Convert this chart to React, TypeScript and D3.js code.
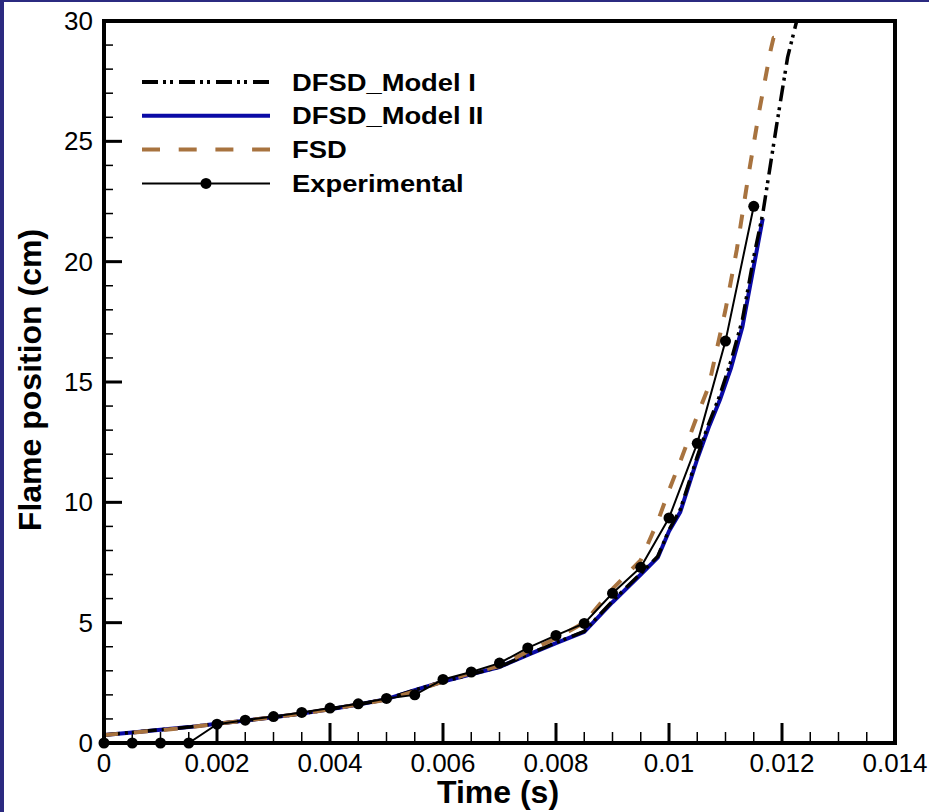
import React from 'react';
import * as d3 from 'd3';

// Experimental measurements
const expTime = [0, 0.0005, 0.001, 0.0015, 0.002, 0.0025, 0.003, 0.0035, 0.004, 0.0045, 0.005, 0.0055,
  0.006, 0.0065, 0.007, 0.0075, 0.008, 0.0085, 0.009, 0.0095, 0.01, 0.0105, 0.011, 0.0115];
const expPos = [0, 0, 0, 0, 0.78, 0.95, 1.1, 1.27, 1.45, 1.63, 1.85, 2.0,
  2.64, 2.95, 3.32, 3.95, 4.47, 4.97, 6.22, 7.3, 9.35, 12.45, 16.7, 22.3];

// DFSD Model II
const m2Time = [0, 0.0005, 0.001, 0.0015, 0.002, 0.0025, 0.003, 0.0035, 0.004, 0.0045, 0.005, 0.0055,
  0.006, 0.0065, 0.007, 0.0075, 0.008, 0.0085, 0.009, 0.0095, 0.0098, 0.01, 0.0102, 0.0105, 0.0107,
  0.0109, 0.0111, 0.0113, 0.0115, 0.01166];
const m2Pos = [0.33, 0.44, 0.55, 0.66, 0.8, 0.93, 1.07, 1.22, 1.4, 1.6, 1.82, 2.2,
  2.55, 2.85, 3.16, 3.66, 4.15, 4.62, 5.85, 7.0, 7.7, 8.8, 9.6, 11.8, 13.1,
  14.25, 15.6, 17.3, 19.8, 21.8];

// DFSD Model I
const m1Time = [0, 0.0005, 0.001, 0.0015, 0.002, 0.0025, 0.003, 0.0035, 0.004, 0.0045, 0.005, 0.0055,
  0.006, 0.0065, 0.007, 0.0075, 0.008, 0.0085, 0.009, 0.0095, 0.0098, 0.01, 0.0102, 0.0105, 0.0107,
  0.0109, 0.0111, 0.0113, 0.0115, 0.01166, 0.0119, 0.0121, 0.01226];
const m1Pos = [0.33, 0.44, 0.55, 0.66, 0.8, 0.93, 1.07, 1.22, 1.4, 1.6, 1.82, 2.2,
  2.55, 2.85, 3.16, 3.68, 4.17, 4.64, 5.9, 7.05, 7.75, 8.85, 9.7, 11.9, 13.25,
  14.45, 15.9, 17.6, 20.2, 22.0, 25.6, 28.5, 30];

// FSD
const fsdTime = [0, 0.0005, 0.001, 0.0015, 0.002, 0.0025, 0.003, 0.0035, 0.004, 0.0045, 0.005, 0.0055,
  0.006, 0.0065, 0.007, 0.0075, 0.008, 0.0085, 0.009, 0.0095, 0.0098, 0.01, 0.0102, 0.0105, 0.0107,
  0.011, 0.0112, 0.0114, 0.0116, 0.0118, 0.01185, 0.0119];
const fsdPos = [0.33, 0.43, 0.53, 0.65, 0.8, 0.93, 1.07, 1.22, 1.4, 1.6, 1.8, 2.15,
  2.55, 2.9, 3.2, 3.8, 4.35, 5.0, 6.4, 7.6, 9.2, 10.5, 11.7, 13.6, 14.8,
  18.0, 20.5, 23.5, 26.3, 28.8, 29.3, 29.3];

const xTicks = [0, 0.002, 0.004, 0.006, 0.008, 0.01, 0.012, 0.014];
const yTicks = [0, 5, 10, 15, 20, 25, 30];

const W = 929, H = 812;
const L = 104, R = 895, T = 21, B = 743;
const FONT = '"Liberation Sans", Arial, Helvetica, sans-serif';
const BLUE = '#0a0aa6';
const BROWN = '#a8733f';
const DASHDOT = '16,5,3,4,3,6';

export default function App() {
  const x = d3.scaleLinear().domain([0, 0.014]).range([L, R]);
  const y = d3.scaleLinear().domain([0, 30]).range([B, T]);
  const line = d3.line<[number, number]>().x(d => x(d[0])).y(d => y(d[1]));
  const zip = (a: number[], b: number[]) => a.map((t, i) => [t, b[i]] as [number, number]);

  const xMinor = d3.range(0, 0.014 + 1e-9, 0.0005);
  const yMinor = d3.range(0, 31, 1);

  const legend = [
    { label: 'DFSD_Model I', color: '#000', width: 4, dash: DASHDOT, marker: false },
    { label: 'DFSD_Model II', color: BLUE, width: 4, dash: undefined, marker: false },
    { label: 'FSD', color: BROWN, width: 4, dash: '18,18.7', marker: false },
    { label: 'Experimental', color: '#000', width: 2, dash: undefined, marker: true },
  ];

  return (
    <svg width={W} height={H} style={{ position: 'absolute', left: 0, top: 0, background: '#fff' }}
      fontFamily={FONT}>
      <rect x={0} y={0} width={W} height={H} fill="#fff" />
      <rect x={0} y={0} width={4} height={H} fill="#2b2a80" />
      <rect x={0} y={0} width={W} height={2} fill="#2b2a80" />

      <defs>
        <clipPath id="plot">
          <rect x={L} y={T - 2} width={R - L} height={B - T + 2} />
        </clipPath>
      </defs>

      {/* minor ticks */}
      {xMinor.map((v, i) => (
        <line key={'xm' + i} x1={x(v)} x2={x(v)} y1={B} y2={B - 11} stroke="#000" strokeWidth={1.5} />
      ))}
      {xTicks.map((v, i) => (
        <line key={'xM' + i} x1={x(v)} x2={x(v)} y1={B} y2={B - 20} stroke="#000" strokeWidth={3} />
      ))}
      {yMinor.map((v, i) => (
        <line key={'ym' + i} x1={L} x2={L + 9} y1={y(v)} y2={y(v)} stroke="#000" strokeWidth={1.5} />
      ))}
      {yTicks.map((v, i) => (
        <line key={'yM' + i} x1={L} x2={L + 18} y1={y(v)} y2={y(v)} stroke="#000" strokeWidth={3} />
      ))}

      {/* curves */}
      <g clipPath="url(#plot)" fill="none" strokeLinejoin="round">
        <path d={line(zip(m2Time, m2Pos)) || ''} stroke={BLUE} strokeWidth={4} />
        <path d={line(zip(m1Time, m1Pos)) || ''} stroke="#000" strokeWidth={3.5} strokeDasharray={DASHDOT} />
        <path d={line(zip(fsdTime, fsdPos)) || ''} stroke={BROWN} strokeWidth={4} strokeDasharray="14,16" />
        <path d={line(zip(expTime, expPos)) || ''} stroke="#000" strokeWidth={2} />
      </g>
      {expTime.map((t, i) => (
        <circle key={'e' + i} cx={x(t)} cy={y(expPos[i])} r={5.5} fill="#000" />
      ))}

      {/* frame */}
      <rect x={L} y={T} width={R - L} height={B - T} fill="none" stroke="#000" strokeWidth={4} />

      {/* tick labels */}
      {xTicks.map((v, i) => (
        <text key={'xl' + i} x={x(v)} y={772} textAnchor="middle" fontSize={26}>{d3.format('~g')(v)}</text>
      ))}
      {yTicks.map((v, i) => (
        <text key={'yl' + i} x={93} y={y(v) + 9} textAnchor="end" fontSize={26}>{v}</text>
      ))}

      {/* axis titles */}
      <text x={498} y={803} textAnchor="middle" fontSize={32} fontWeight="bold">Time (s)</text>
      <text transform={`translate(41,380) rotate(-90)`} textAnchor="middle" fontSize={32} fontWeight="bold">
        Flame position (cm)
      </text>

      {/* legend */}
      {legend.map((d, i) => {
        const ly = 82 + i * 33.8;
        return (
          <g key={'lg' + i}>
            <line x1={142} x2={270} y1={ly} y2={ly} stroke={d.color} strokeWidth={d.width}
              strokeDasharray={d.dash} />
            {d.marker && <circle cx={206} cy={ly} r={5.5} fill="#000" />}
            <text transform={`translate(292,${ly + 8.5}) scale(1.14,1)`} fontSize={24} fontWeight="bold">
              {d.label}
            </text>
          </g>
        );
      })}
    </svg>
  );
}
